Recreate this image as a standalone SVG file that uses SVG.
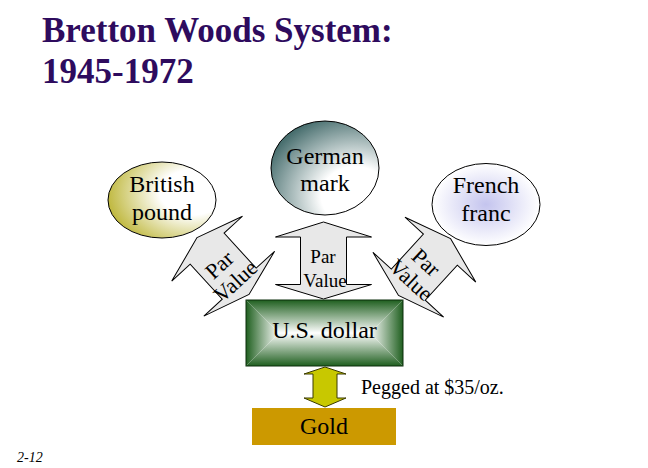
<svg xmlns="http://www.w3.org/2000/svg" width="648" height="468" viewBox="0 0 648 468" font-family="'Liberation Serif', 'Times New Roman', 'DejaVu Serif', serif">
  <style>
    text { font-family: 'Liberation Serif', 'Times New Roman', 'DejaVu Serif', serif; }
    .t { fill: #000; }
    .title { font-weight: bold; font-size: 35px; fill: #2e0b5e; }
    .cur { font-size: 24px; text-anchor: middle; }
    .pv { font-size: 22px; text-anchor: middle; }
    .pvc { font-size: 19px; text-anchor: middle; }
    .ell { stroke: #000; stroke-width: 1; }
    .arr { fill: #e8e8e8; stroke: #000; stroke-width: 1; stroke-linejoin: miter; }
  </style>
  <defs>
    <radialGradient id="gBrit" cx="0.78" cy="0.4" r="0.85">
      <stop offset="0" stop-color="#ffffff"/>
      <stop offset="0.35" stop-color="#ffffff"/>
      <stop offset="1" stop-color="#b8b028"/>
    </radialGradient>
    <radialGradient id="gGer" cx="0.78" cy="0.8" r="0.9">
      <stop offset="0" stop-color="#ffffff"/>
      <stop offset="0.35" stop-color="#ffffff"/>
      <stop offset="1" stop-color="#456c6c"/>
    </radialGradient>
    <radialGradient id="gFr" cx="0.5" cy="0.5" r="0.5">
      <stop offset="0" stop-color="#c4c4ee"/>
      <stop offset="1" stop-color="#ffffff"/>
    </radialGradient>
    <linearGradient id="gTop" x1="0" y1="0" x2="0" y2="1">
      <stop offset="0" stop-color="#1f5f1f"/>
      <stop offset="1" stop-color="#ffffff"/>
    </linearGradient>
    <linearGradient id="gBot" x1="0" y1="1" x2="0" y2="0">
      <stop offset="0" stop-color="#1f5f1f"/>
      <stop offset="1" stop-color="#ffffff"/>
    </linearGradient>
    <linearGradient id="gLeft" x1="0" y1="0" x2="1" y2="0">
      <stop offset="0" stop-color="#1f5f1f"/>
      <stop offset="1" stop-color="#ffffff"/>
    </linearGradient>
    <linearGradient id="gRight" x1="1" y1="0" x2="0" y2="0">
      <stop offset="0" stop-color="#1f5f1f"/>
      <stop offset="1" stop-color="#ffffff"/>
    </linearGradient>
    <path id="dblArrow" d="M0,-38.5 L48,-23.5 L23,-23.5 L23,24 L48,24 L0,38.5 L-48,24 L-23,24 L-23,-23.5 L-48,-23.5 Z"/>
  </defs>

  <rect width="648" height="468" fill="#ffffff"/>

  <g id="title">
    <text class="title" x="42" y="42">Bretton Woods System:</text>
    <text class="title" x="42" y="83">1945-1972</text>
  </g>

  <g id="connectors">
    <g id="arrow-gbp" transform="translate(223,266) rotate(-42.5)">
      <use href="#dblArrow" class="arr"/>
      <text class="t pv" x="-2" y="4">Par</text>
      <text class="t pv" x="-1" y="27">Value</text>
    </g>
    <g id="arrow-dem" transform="translate(323.5,260.5)">
      <use href="#dblArrow" class="arr"/>
    </g>
    <text class="t pvc" x="323" y="263">Par</text>
    <text class="t pvc" x="325" y="286.5">Value</text>
    <g id="arrow-frf" transform="translate(424.5,267) rotate(42.5)">
      <use href="#dblArrow" class="arr"/>
      <text class="t pv" x="-2" y="3">Par</text>
      <text class="t pv" x="-1" y="26">Value</text>
    </g>
    <g id="arrow-gold">
      <path d="M325,367 L346,374 L337,374 L337,398 L346,398 L325,407 L304,398 L313,398 L313,374 L304,374 Z" fill="#c8c800" stroke="#3a3a00" stroke-width="1"/>
    </g>
  </g>

  <g id="node-gbp">
    <ellipse class="ell" cx="162" cy="200" rx="54" ry="38" fill="url(#gBrit)"/>
    <text class="t cur" x="162" y="192">British</text>
    <text class="t cur" x="162" y="220">pound</text>
  </g>

  <g id="node-dem">
    <ellipse class="ell" cx="325" cy="168" rx="54" ry="47" fill="url(#gGer)"/>
    <text class="t cur" x="325" y="164">German</text>
    <text class="t cur" x="325" y="191">mark</text>
  </g>

  <g id="node-frf">
    <ellipse class="ell" cx="486" cy="204.5" rx="54" ry="41" fill="url(#gFr)"/>
    <text class="t cur" x="486" y="193">French</text>
    <text class="t cur" x="486" y="221">franc</text>
  </g>

  <g id="node-usd">
    <polygon points="246,300 403,300 370,333 279,333" fill="url(#gTop)"/>
    <polygon points="246,366 403,366 370,333 279,333" fill="url(#gBot)"/>
    <polygon points="246,300 279,333 246,366" fill="url(#gLeft)"/>
    <polygon points="403,300 370,333 403,366" fill="url(#gRight)"/>
    <rect x="246" y="300" width="157" height="66" fill="none" stroke="#0c2e0c" stroke-width="1"/>
    <text class="t cur" x="324.5" y="338">U.S. dollar</text>
  </g>

  <g id="node-gold">
    <rect x="252" y="408" width="144" height="37" fill="#cc9900"/>
    <text class="t cur" x="324" y="434">Gold</text>
  </g>

  <text class="t" x="361" y="394" font-size="20">Pegged at $35/oz.</text>
  <text class="t" x="17" y="462" font-size="14" font-style="italic">2-12</text>
</svg>
